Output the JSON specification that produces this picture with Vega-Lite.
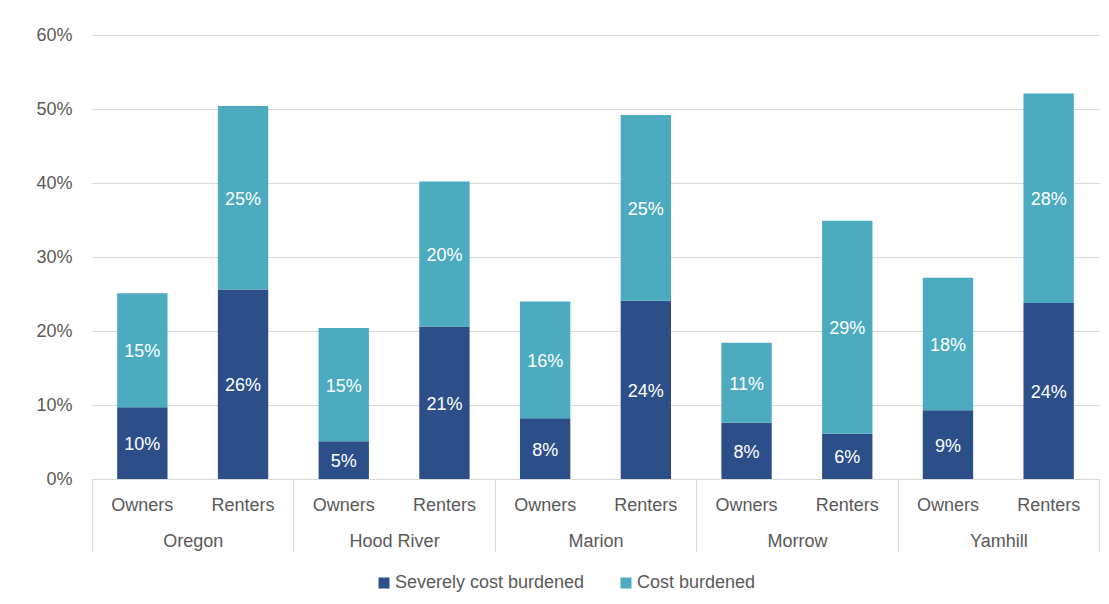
{
  "$schema": "https://vega.github.io/schema/vega-lite/v6.json",
  "width": 1007,
  "height": 444,
  "autosize": {"type": "none"},
  "padding": {"left": 92, "top": 35, "right": 10, "bottom": 125},
  "background": "white",
  "config": {
    "font": "Liberation Sans",
    "view": {"stroke": null},
    "axis": {"labelColor": "#595959", "labelFontSize": 18, "domainColor": "#d9d9d9", "gridColor": "#d9d9d9", "tickColor": "#d9d9d9", "title": null}
  },
  "data": {
    "values": [
      {"region": "Oregon", "tenure": "Owners", "key": "Oregon|Owners", "series": "Severely cost burdened", "value": 0.097},
      {"region": "Oregon", "tenure": "Owners", "key": "Oregon|Owners", "series": "Cost burdened", "value": 0.154},
      {"region": "Oregon", "tenure": "Renters", "key": "Oregon|Renters", "series": "Severely cost burdened", "value": 0.256},
      {"region": "Oregon", "tenure": "Renters", "key": "Oregon|Renters", "series": "Cost burdened", "value": 0.248},
      {"region": "Hood River", "tenure": "Owners", "key": "Hood River|Owners", "series": "Severely cost burdened", "value": 0.051},
      {"region": "Hood River", "tenure": "Owners", "key": "Hood River|Owners", "series": "Cost burdened", "value": 0.153},
      {"region": "Hood River", "tenure": "Renters", "key": "Hood River|Renters", "series": "Severely cost burdened", "value": 0.206},
      {"region": "Hood River", "tenure": "Renters", "key": "Hood River|Renters", "series": "Cost burdened", "value": 0.196},
      {"region": "Marion", "tenure": "Owners", "key": "Marion|Owners", "series": "Severely cost burdened", "value": 0.082},
      {"region": "Marion", "tenure": "Owners", "key": "Marion|Owners", "series": "Cost burdened", "value": 0.158},
      {"region": "Marion", "tenure": "Renters", "key": "Marion|Renters", "series": "Severely cost burdened", "value": 0.241},
      {"region": "Marion", "tenure": "Renters", "key": "Marion|Renters", "series": "Cost burdened", "value": 0.251},
      {"region": "Morrow", "tenure": "Owners", "key": "Morrow|Owners", "series": "Severely cost burdened", "value": 0.076},
      {"region": "Morrow", "tenure": "Owners", "key": "Morrow|Owners", "series": "Cost burdened", "value": 0.108},
      {"region": "Morrow", "tenure": "Renters", "key": "Morrow|Renters", "series": "Severely cost burdened", "value": 0.061},
      {"region": "Morrow", "tenure": "Renters", "key": "Morrow|Renters", "series": "Cost burdened", "value": 0.288},
      {"region": "Yamhill", "tenure": "Owners", "key": "Yamhill|Owners", "series": "Severely cost burdened", "value": 0.093},
      {"region": "Yamhill", "tenure": "Owners", "key": "Yamhill|Owners", "series": "Cost burdened", "value": 0.179},
      {"region": "Yamhill", "tenure": "Renters", "key": "Yamhill|Renters", "series": "Severely cost burdened", "value": 0.238},
      {"region": "Yamhill", "tenure": "Renters", "key": "Yamhill|Renters", "series": "Cost burdened", "value": 0.283}
    ]
  },
  "resolve": {"scale": {"x": "independent"}, "axis": {"x": "independent"}},
  "layer": [
    {
      "transform": [
        {"stack": "value", "groupby": ["key"], "sort": [{"field": "series", "order": "descending"}], "as": ["v0", "v1"]},
        {"calculate": "(datum.v0 + datum.v1) / 2", "as": "mid"}
      ],
      "encoding": {
        "x": {
          "field": "key", "type": "nominal", "sort": null,
          "scale": {"paddingInner": 0.5, "paddingOuter": 0.25},
          "axis": {"orient": "bottom", "labelExpr": "split(datum.label, '|')[1]", "ticks": false, "domain": true, "labelPadding": 17, "labelAngle": 0}
        }
      },
      "layer": [
        {
          "mark": {"type": "bar"},
          "encoding": {
            "y": {
              "field": "v1", "type": "quantitative", "stack": null,
              "scale": {"domain": [0, 0.6], "nice": false},
              "axis": {"values": [0, 0.1, 0.2, 0.3, 0.4, 0.5, 0.6], "format": ".0%", "ticks": false, "domain": false, "labelPadding": 20, "grid": true}
            },
            "y2": {"field": "v0"},
            "color": {
              "field": "series", "type": "nominal",
              "scale": {"domain": ["Severely cost burdened", "Cost burdened"], "range": ["#2C4F8A", "#4CABBF"]},
              "legend": {
                "orient": "none", "legendX": 283, "legendY": 539, "direction": "horizontal", "title": null,
                "symbolType": "square", "symbolSize": 121, "symbolStrokeWidth": 0, "labelFontSize": 18,
                "labelColor": "#595959", "columnPadding": 32, "labelOffset": 2, "labelLimit": 0
              }
            }
          }
        },
        {
          "mark": {"type": "text", "color": "white", "fontSize": 18, "baseline": "middle", "dy": 2},
          "encoding": {
            "y": {"field": "mid", "type": "quantitative", "stack": null},
            "text": {"field": "value", "type": "quantitative", "format": ".0%"}
          }
        }
      ]
    },
    {
      "mark": {"type": "bar", "opacity": 0},
      "encoding": {
        "x": {
          "field": "region", "type": "nominal", "sort": null,
          "scale": {"paddingInner": 0, "paddingOuter": 0},
          "axis": {"orient": "bottom", "tickBand": "extent", "tickSize": 73, "labelPadding": -20, "domain": false, "labelAngle": 0}
        }
      }
    }
  ]
}
